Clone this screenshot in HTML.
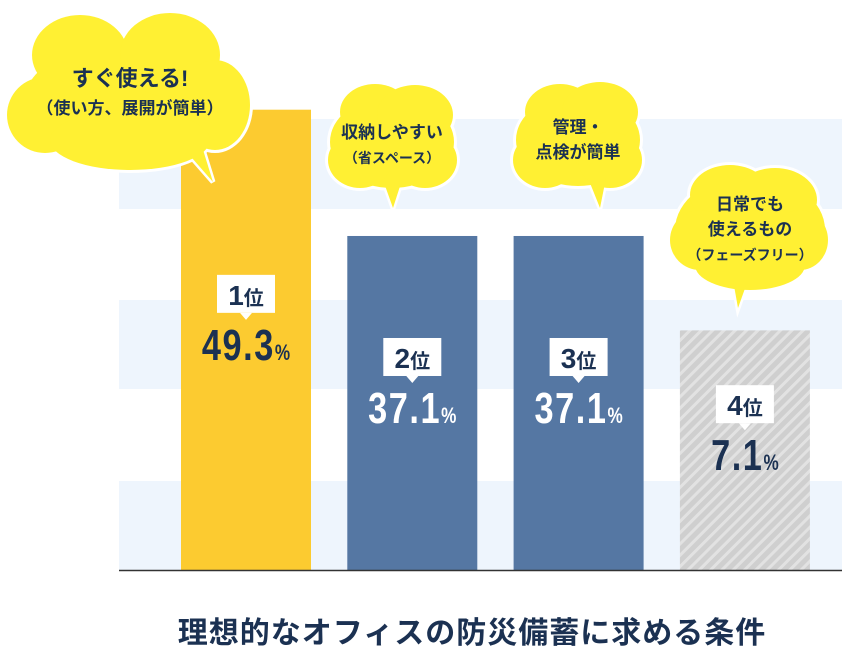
<!DOCTYPE html>
<html><head><meta charset="utf-8"><style>
body{margin:0;background:#fff}
svg{display:block;font-family:"Liberation Sans","Noto Sans CJK JP",sans-serif}
</style></head><body>
<svg id="chart" width="842" height="656" viewBox="0 0 842 656">
<defs>
<pattern id="hatch" width="8" height="8" patternUnits="userSpaceOnUse" patternTransform="rotate(45)">
<rect width="8" height="8" fill="#cfcfcf"/><rect width="3" height="8" fill="#e2e2e2"/>
</pattern>
</defs>
<g>
<rect x="119" y="119" width="723" height="90" fill="#eef5fd"/>
<rect x="119" y="300" width="723" height="89" fill="#eef5fd"/>
<rect x="119" y="481" width="723" height="89" fill="#eef5fd"/>
</g>
<g id="bars"></g>
<g id="labels"></g>
<line x1="119" y1="570.5" x2="842" y2="570.5" stroke="#333" stroke-width="1.5"/>
<g id="bubbles"></g>
<text x="472" y="643" text-anchor="middle" font-size="30" font-weight="bold" fill="#1b3152" letter-spacing="1">理想的なオフィスの防災備蓄に求める条件</text>
</svg>
<script>
const categories=["すぐ使える","収納しやすい","管理・点検が簡単","日常でも使えるもの"];
const values=[49.3,37.1,37.1,7.1];
const ranks=["1","2","3","4"];
const valueLabels=["49.3","37.1","37.1","7.1"];
const NS="http://www.w3.org/2000/svg";
const baseY=570;
// illustrative (non-linear) value axis used by the infographic
const kD=[0,8,38,50], kR=[0,270,336,468];
function yScale(v){
  for(let i=1;i<kD.length;i++){ if(v<=kD[i]||i===kD.length-1){const t=(v-kD[i-1])/(kD[i]-kD[i-1]);return baseY-(kR[i-1]+t*(kR[i]-kR[i-1]));}}
}
function xScale(i){return 181+i*166.3;}
const bw=130;
const fills=["#fccb30","#5577a3","#5577a3","url(#hatch)"];
const txtCol=["#1b3152","#ffffff","#ffffff","#1b3152"];
const bars=document.getElementById('bars'),labels=document.getElementById('labels');
function mk(t,a){const e=document.createElementNS(NS,t);for(const k in a)e.setAttribute(k,a[k]);return e;}
values.forEach((v,i)=>{
  const x=xScale(i),y=yScale(v);
  const r=mk('rect',{x:x,y:y,width:bw,height:baseY-y,fill:fills[i]});
  
  
  bars.appendChild(r);
  const cx=x+bw/2, by=(y+baseY)/2-65;
  const g=mk('g',{});
  
  
  g.appendChild(mk('rect',{x:cx-29,y:by,width:58,height:38,fill:'#fff'}));
  g.appendChild(mk('polygon',{points:`${cx-6},${by+38} ${cx+6},${by+38} ${cx},${by+45}`,fill:'#fff'}));
  const t=mk('text',{x:cx,y:by+30,'text-anchor':'middle',fill:'#1b3152','font-weight':'bold'});
  t.innerHTML=`<tspan font-size="28">${ranks[i]}</tspan><tspan font-size="20">位</tspan>`;
  g.appendChild(t);
  labels.appendChild(g);
  const p=mk('text',{x:cx,y:by+85,'text-anchor':'middle',fill:txtCol[i],'font-weight':'bold',transform:`translate(${cx} 0) scale(0.78 1) translate(${-cx} 0)`});
  
  
  p.innerHTML=`<tspan font-size="44" letter-spacing="2">${valueLabels[i]}</tspan><tspan font-size="22">%</tspan>`;
  labels.appendChild(p);
});
// bubbles
const bub=document.getElementById('bubbles');
const bubbleDefs=[
 {name:'bubble-easy-to-use',circles:[[130,100,105,58],[80,55,48,40],[170,55,50,42],[45,115,38,38],[215,105,35,45],[130,140,80,30]],tail:'185,150 213,182 200,140',lines:[['すぐ使える!',130,86,22],['（使い方、展開が簡単）',130,114,17]]},
 {name:'bubble-storage',circles:[[392,142,62,46],[375,112,35,28],[415,115,38,30],[360,160,32,28],[425,160,32,28]],tail:'383,180 393,208 402,180',lines:[['収納しやすい',392,138,17],['（省スペース）',392,163,14]]},
 {name:'bubble-management',circles:[[578,140,62,46],[560,112,35,28],[600,112,38,30],[545,160,32,28],[610,160,32,28]],tail:'588,178 600,208 606,178',lines:[['管理・',578,133,17],['点検が簡単',578,158,17]]},
 {name:'bubble-phase-free',circles:[[750,230,75,55],[730,195,40,30],[775,200,42,32],[700,240,30,30],[800,240,28,30],[750,265,55,25]],tail:'733,280 738,308 748,280',lines:[['日常でも',750,210,17],['使えるもの',750,235,17],['（フェーズフリー）',750,260,14]]}
];
bubbleDefs.forEach(b=>{
  const g=mk('g',{});
  
  
  ['#ffffff','#fff033'].forEach((c,k)=>{
    b.circles.forEach(e=>g.appendChild(mk('ellipse',{cx:e[0],cy:e[1],rx:e[2]+(k?0:3),ry:e[3]+(k?0:3),fill:c})));
    g.appendChild(mk('polygon',{points:b.tail,fill:c,stroke:k?'none':'#fff','stroke-width':k?0:5}));
  });
  b.lines.forEach(l=>{const t=mk('text',{x:l[1],y:l[2],'text-anchor':'middle','font-size':l[3],'font-weight':'bold',fill:'#1b3152'});t.textContent=l[0];g.appendChild(t);});
  bub.appendChild(g);
});
</script>
</body></html>
